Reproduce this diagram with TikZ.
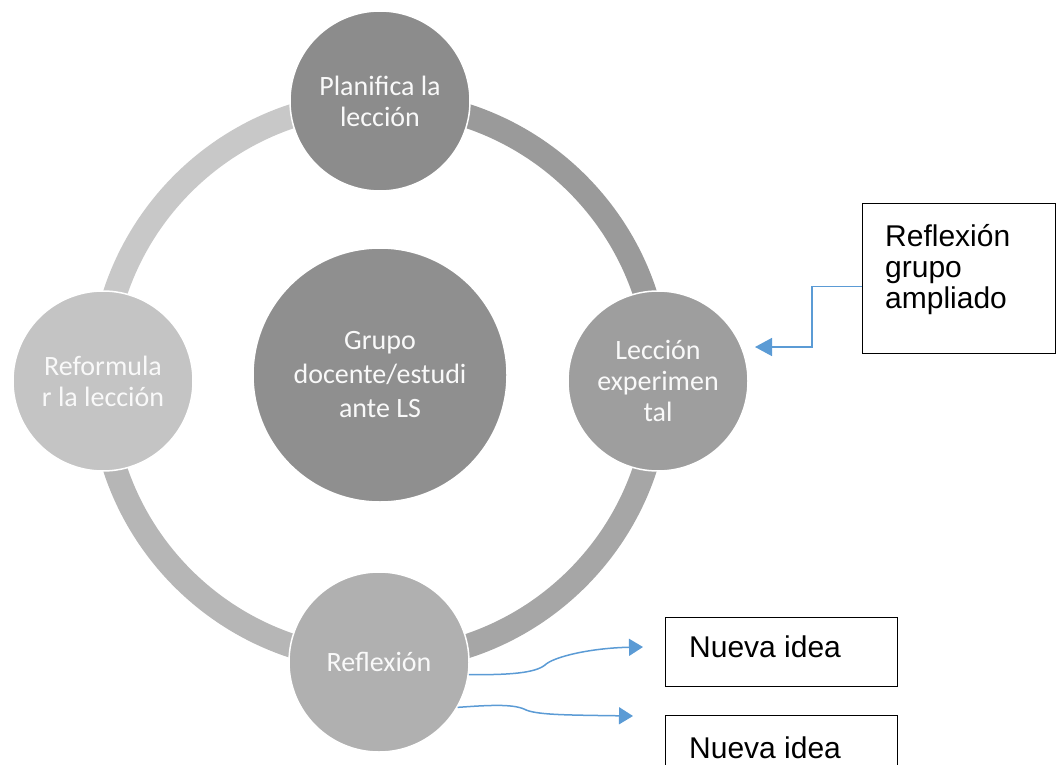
\documentclass[tikz,border=0pt]{standalone}
\usepackage{fontspec}
\setmainfont{Carlito}
\newfontfamily\arialf{Liberation Sans}
\usetikzlibrary{arrows.meta,calc}
\definecolor{cTop}{HTML}{8C8C8C}
\definecolor{cRight}{HTML}{9E9E9E}
\definecolor{cBottom}{HTML}{B0B0B0}
\definecolor{cLeft}{HTML}{C4C4C4}
\definecolor{cCenter}{HTML}{8F8F8F}
\definecolor{aTL}{HTML}{C8C8C8}
\definecolor{aTR}{HTML}{9A9A9A}
\definecolor{aBR}{HTML}{A6A6A6}
\definecolor{aBL}{HTML}{B6B6B6}
\definecolor{blueline}{HTML}{5B9BD5}
\tikzset{
  phase/.style={circle, draw=white, line width=1.5pt, minimum size=180pt, inner sep=0pt,
    text=white!95!gray, align=center, font=\fontsize{28}{31}\selectfont},
  hub/.style={circle, draw=white, line width=1.5pt, minimum size=254pt, inner sep=0pt,
    fill=cCenter, text=white!95!gray, align=center, font=\fontsize{28}{34}\selectfont},
  ringarc/.style={line width=24pt},
  notebox/.style={draw=black, line width=1.2pt, rectangle, inner sep=0pt},
  notetext/.style={font=\arialf\fontsize{30}{31}\selectfont, text=black, inner sep=0pt},
  arr/.style={draw=blueline, line width=1.5pt, -{Triangle[length=14pt,width=17pt]}},
  arrbig/.style={draw=blueline, line width=1.5pt, -{Triangle[length=17pt,width=18pt]}}
}
\begin{document}
\begin{tikzpicture}[x=1pt,y=-1pt]
\useasboundingbox (0,0) rectangle (1057,765);
\clip (0,0) rectangle (1057,765);
% ring
\coordinate (rc) at (380,381);
\draw[ringarc, aTL] ($(rc)+(180:279)$) arc[start angle=180, end angle=270, radius=279];
\draw[ringarc, aTR] ($(rc)+(270:279)$) arc[start angle=270, end angle=360, radius=279];
\draw[ringarc, aBR] ($(rc)+(0:279)$) arc[start angle=0, end angle=90, radius=279];
\draw[ringarc, aBL] ($(rc)+(90:279)$) arc[start angle=90, end angle=180, radius=279];
% circles
\node[phase, fill=cTop] (plan) at (380,101) {Planifica la\\lección};
\node[phase, fill=cRight] (exp) at (658,381) {Lección\\experimen\\tal};
\node[phase, fill=cBottom] (refl) at (379,662) {Reflexión};
\node[phase, fill=cLeft] (refo) at (103,381) {Reformula\\r la lección};
\node[hub] (hub) at (380,375) {Grupo\\docente/estudi\\ante LS};
% right box
\node[notebox, minimum width=193pt, minimum height=150pt, anchor=north west] (rb) at (862,203) {};
\node[notetext, anchor=base west] (rbt1) at (885,246) {Reflexión};
\node[notetext, anchor=base west] (rbt2) at (885,277) {grupo};
\node[notetext, anchor=base west] (rbt3) at (885,308) {ampliado};
% nueva idea boxes
\node[notebox, minimum width=232pt, minimum height=69pt, anchor=north west] (n1) at (665,617) {};
\node[notetext, anchor=base west] (n1t) at (689,657) {Nueva idea};
\node[notebox, minimum width=232pt, minimum height=80pt, anchor=north west] (n2) at (665,715) {};
\node[notetext, anchor=base west] (n2t) at (689,758) {Nueva idea};
% connectors
\coordinate (rtip) at (755,347);
\draw[arrbig] ([yshift=-8pt]rb.west) -- ++(-50,0) |- (rtip);
\coordinate (t1) at (643,647);
\coordinate (t2) at (633,716);
\draw[arr] (refl.-8) .. controls (510,675) and (535,673) .. (545,665)
  .. controls (553,657) and (590,648) .. (t1);
\draw[arr] (refl.-30) .. controls (490,705) and (512,704) .. (524,709)
  .. controls (535,715) and (565,715) .. (t2);
\end{tikzpicture}
\end{document}
